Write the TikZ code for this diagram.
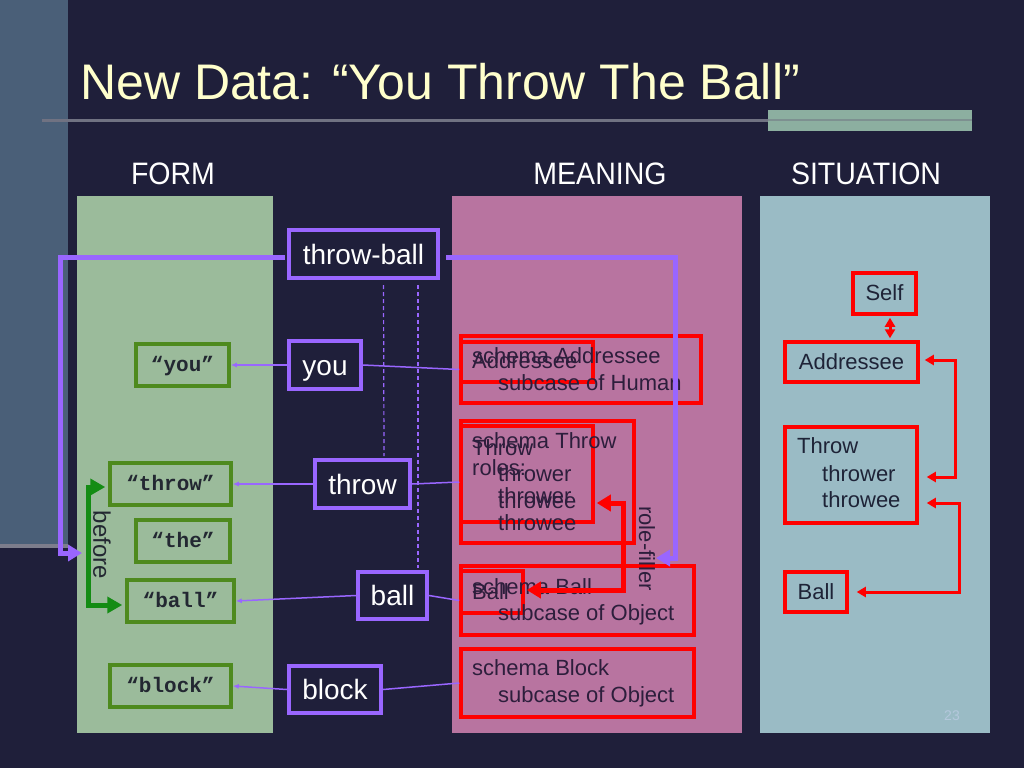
\documentclass[tikz,border=0pt]{standalone}
\usepackage{fontspec}
\setmainfont{Liberation Sans}
\newfontfamily\hdrfont{Liberation Sans}[FakeStretch=0.92]
\newfontfamily\codefont{Liberation Mono}
\usetikzlibrary{arrows.meta,calc}
\definecolor{bgc}{RGB}{31,31,58}
\definecolor{stripc}{RGB}{74,95,120}
\definecolor{stripedge}{RGB}{125,125,140}
\definecolor{rulec}{RGB}{112,114,130}
\definecolor{rectg}{RGB}{140,175,160}
\definecolor{titlec}{RGB}{255,255,204}
\definecolor{formc}{RGB}{155,187,155}
\definecolor{meanc}{RGB}{184,116,160}
\definecolor{sitc}{RGB}{154,187,197}
\definecolor{purp}{RGB}{153,102,255}
\definecolor{gline}{RGB}{78,138,30}
\definecolor{garrc}{RGB}{20,140,20}
\definecolor{redc}{RGB}{255,0,0}
\definecolor{ftext}{RGB}{35,40,50}
\definecolor{mtext}{RGB}{45,30,60}
\definecolor{stext}{RGB}{30,35,55}
\definecolor{numc}{RGB}{180,200,220}
\begin{document}
\begin{tikzpicture}[x=1pt,y=-1pt,
  pbox/.style={draw=purp, line width=4pt, fill=bgc, text=white, font=\fontsize{28}{30}\selectfont, inner sep=0pt, text height=20pt, text depth=0pt},
  gbox/.style={draw=gline, line width=3.5pt, fill=formc, text=ftext, font=\codefont\bfseries\fontsize{21}{22}\selectfont, inner sep=0pt, text height=12pt, text depth=0pt},
  rbox/.style={draw=redc, line width=3.5pt, inner sep=0pt},
  sbox/.style={rbox, text=stext, font=\fontsize{22}{24}\selectfont, text height=14pt, text depth=0pt},
  mtxt/.style={anchor=base west, inner sep=0pt, text=mtext, font=\fontsize{22}{24}\selectfont},
  stxt/.style={anchor=base west, inner sep=0pt, text=stext, font=\fontsize{22}{24}\selectfont},
  hdr/.style={anchor=base, inner sep=0pt, text=white, font=\hdrfont\fontsize{31}{33}\selectfont},
  thinp/.style={draw=purp, line width=1.5pt},
  thinarr/.style={thinp, -{Latex[length=6pt,width=5pt]}},
  dashp/.style={draw=purp, line width=1.2pt, dash pattern=on 4pt off 3pt},
  thickp/.style={draw=purp, line width=5pt, -{Triangle[length=14pt,width=16pt]}},
  rolearr/.style={draw=redc, line width=5pt, {Triangle[length=14pt,width=16pt]}-{Triangle[length=14pt,width=16pt]}},
  sarr/.style={draw=redc, line width=3pt, {Triangle[length=9pt,width=10pt]}-{Triangle[length=9pt,width=10pt]}},
  garr/.style={draw=garrc, line width=5pt, {Triangle[length=15pt,width=16pt]}-{Triangle[length=15pt,width=16pt]}}
]
\useasboundingbox (0,0) rectangle (1024,768);
% background
\fill[bgc] (0,0) rectangle (1024,768);
\fill[stripc] (0,0) rectangle (68,545);
\fill[stripedge] (0,544) rectangle (68,548);
\draw[rulec, line width=3pt] (42,120) -- (972,120);
\fill[rectg] (768,110) rectangle (972,131);
\draw[rulec, line width=2pt, opacity=0.5] (768,120) -- (972,120);
% title and headers
\node[anchor=base west, inner sep=0pt, text=titlec, font=\fontsize{50}{54}\selectfont] (title) at (80,99) {New Data: “You Throw The Ball”};
\node[hdr] (hform) at (173,184) {FORM};
\node[hdr] (hmean) at (600,184) {MEANING};
\node[hdr] (hsit) at (866,184) {SITUATION};
% panels
\fill[formc] (77,196) rectangle (273,733);
\fill[meanc] (452,196) rectangle (742,733);
\fill[sitc] (760,196) rectangle (990,733);
% construction connectors (behind boxes)
\coordinate (pl) at (60,400);
\coordinate (formin) at (82,553);
\coordinate (pr) at (675,400);
\coordinate (meanin) at (656,558);
% form boxes
\node[gbox, minimum width=93pt, minimum height=42pt] (fyou) at (182.5,365) {“you”};
\node[gbox, minimum width=121pt, minimum height=42pt] (fthrow) at (170.5,484) {“throw”};
\node[gbox, minimum width=94pt, minimum height=42pt] (fthe) at (183,541) {“the”};
\node[gbox, minimum width=107pt, minimum height=42pt] (fball) at (180.5,601) {“ball”};
\node[gbox, minimum width=121pt, minimum height=42pt] (fblock) at (170.5,686) {“block”};
% construction boxes
\node[pbox, minimum width=149pt, minimum height=48pt] (tb) at (363.5,254) {throw-ball};
\node[pbox, minimum width=72pt, minimum height=48pt] (pyou) at (325,365) {you};
\node[pbox, minimum width=95pt, minimum height=48pt] (pthrow) at (362.5,484) {throw};
\node[pbox, minimum width=69pt, minimum height=47pt] (pball) at (392.5,595.5) {ball};
\node[pbox, minimum width=92pt, minimum height=47pt] (pblock) at (335,689.5) {block};
% meaning boxes
\node[rbox, minimum width=240pt, minimum height=67pt] (mAddr) at (581,369.5) {};
\node[rbox, minimum width=132pt, minimum height=40pt] (mAddrS) at (527,362) {};
\node[rbox, minimum width=173pt, minimum height=122pt] (mThrow) at (547.5,482) {};
\node[rbox, minimum width=132pt, minimum height=96pt] (mThrowS) at (527,474) {};
\node[rbox, minimum width=233pt, minimum height=69pt] (mBall) at (577.5,600.5) {};
\node[rbox, minimum width=62pt, minimum height=42pt] (mBallS) at (492,592) {};
\node[rbox, minimum width=233pt, minimum height=68pt] (mBlock) at (577.5,683) {};
% meaning texts
\node[mtxt] (ta1) at (472,363) {schema Addressee};
\node[mtxt] (ta2) at (498,390) {subcase of Human};
\node[mtxt] (ta3) at (472,368) {Addressee};
\node[mtxt] (tt1) at (472,448) {schema Throw};
\node[mtxt] (tt2) at (472,455) {Throw};
\node[mtxt] (tt3) at (472,475) {roles:};
\node[mtxt] (tt4) at (498,481) {thrower};
\node[mtxt] (tt5) at (498,503) {thrower};
\node[mtxt] (tt6) at (498,508) {throwee};
\node[mtxt] (tt7) at (498,530) {throwee};
\node[mtxt] (tb1) at (472,594) {schema Ball};
\node[mtxt] (tb2) at (472,599) {Ball};
\node[mtxt] (tb3) at (498,620) {subcase of Object};
\node[mtxt] (tk1) at (472,675) {schema Block};
\node[mtxt] (tk2) at (498,702) {subcase of Object};
\node[rotate=-90, inner sep=0pt, text=mtext, font=\fontsize{22}{24}\selectfont] (rfl) at (647,548.5) {role-filler};
% situation boxes
\node[sbox, minimum width=63pt, minimum height=41pt] (sSelf) at (884.5,293.5) {Self};
\node[sbox, minimum width=133pt, minimum height=40pt] (sAddr) at (851.5,362) {Addressee};
\node[rbox, minimum width=132pt, minimum height=96pt] (sThrow) at (851,475) {};
\node[sbox, minimum width=62pt, minimum height=40pt] (sBall) at (816,592) {Ball};
\node[stxt] (st1) at (797,453) {Throw};
\node[stxt] (st2) at (822,481) {thrower};
\node[stxt] (st3) at (822,507) {throwee};
% dashed lines
\draw[dashp] ($(tb.south)+(20,5)$) -- ($(pthrow.north)+(21.5,-2)$);
\draw[dashp] ($(tb.south)+(54.5,5)$) -- ($(pball.north)+(25.5,-2)$);
% thin connectors
\draw[thinarr] (pyou.west) -- (fyou.east);
\draw[thinarr] (pthrow.west) -- (fthrow.east);
\draw[thinarr] (pball.west) -- (fball.east);
\draw[thinarr] (pblock.west) -- (fblock.east);
\draw[thinp] (pyou.east) -- (mAddr.west);
\draw[thinp] (pthrow.east) -- (mThrow.west);
\draw[thinp] (pball.east) -- (mBall.west);
\draw[thinp] (pblock.east) -- (mBlock.west);
% thick construction connectors
\draw[thickp] ($(tb.west)+(-2,3)$) -| (pl) |- (formin);
\draw[thickp] ($(tb.east)+(6,3)$) -| (pr) |- (meanin);
% role-filler arrow
\coordinate (rf) at (623,550);
\draw[rolearr] ($(mThrowS.east)+(2,29)$) -| (rf) |- ($(mBallS.east)+(2,-2)$);
% before arrow
\coordinate (gb) at (88,545);
\draw[garr] ($(fthrow.west)+(-3,3)$) -| (gb) |- ($(fball.west)+(-3,4)$);
\node[rotate=-90, inner sep=0pt, text=ftext, font=\fontsize{24}{26}\selectfont] (bef) at (102,545) {before};
% situation arrows
\draw[sarr] ($(sSelf.south)+(5.5,2)$) -- ($(sAddr.north)+(38.5,-2)$);
\coordinate (c1) at (955,420);
\draw[sarr] ($(sAddr.east)+(5,-2)$) -| (c1) |- ($(sThrow.east)+(8,2)$);
\coordinate (c2) at (959,550);
\draw[sarr] ($(sThrow.east)+(8,28)$) -| (c2) |- ($(sBall.east)+(8,0)$);
% page number
\node[inner sep=0pt, text=numc, font=\fontsize{14}{16}\selectfont] (pg) at (952,716) {23};
\end{tikzpicture}
\end{document}
